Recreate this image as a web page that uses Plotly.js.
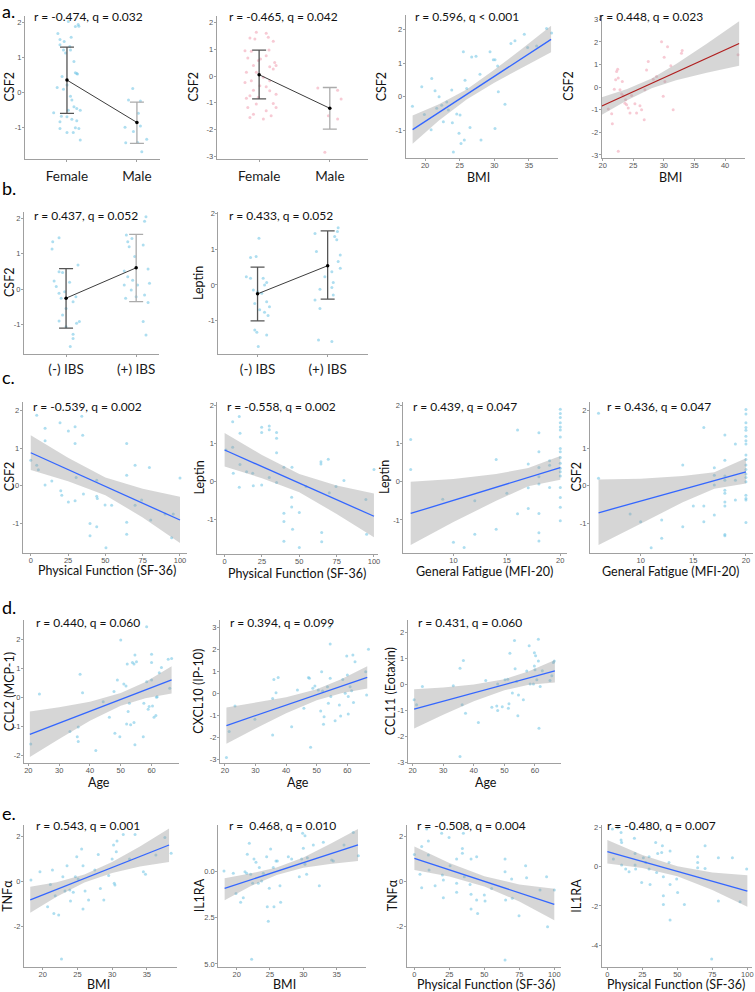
<!DOCTYPE html>
<html><head><meta charset="utf-8">
<script src="https://cdn.plot.ly/plotly-3.0.1.min.js"></script>
<style>html,body{margin:0;padding:0;background:#fff}</style>
</head><body><div id="chart" style="width:755px;height:992px"></div>
<script>
// ---------------- DATA ----------------
const catsSex = ['Female', 'Male'];
const catsIBS = ['(-) IBS', '(+) IBS'];

// a1: CSF2 by sex (blue)
const a1FemaleJitter = [-0.13,-0.10,0.17,0.12,0.06,-0.04,-0.10,0.04,-0.05,-0.02,0.05,0.10,0.14,0.12,0.15,-0.07,-0.14,-0.05,0.00,0.05,0.07,0.10,0.14,0.19,-0.19,-0.08,0.00,0.07,0.14,-0.10,0.12,0.00,0.17,0.09,0.19,-0.10,0.02,0.02,0.16];
const a1FemaleY = [1.69,1.52,1.90,1.89,1.58,1.46,1.37,1.32,1.22,1.13,1.22,0.89,0.55,0.57,0.53,0.46,0.15,0.10,0.22,-0.10,-0.21,-0.40,-0.45,-0.50,-0.57,-0.67,-0.69,-0.76,-0.80,-1.02,-1.00,-1.14,-1.02,-1.14,-1.35,-0.83,-0.50,2.03,1.95];
const a1MaleJitter = [-0.06,-0.12,0.05,-0.17,0.05,-0.05,0.14,-0.16,0.01,0.07,0.02];
const a1MaleY = [0.12,-0.21,-0.24,-0.99,-0.95,-1.11,-1.33,-1.43,-1.42,-1.69,-0.59];
const a1Mean = [0.36,-0.85], a1Lower = [-0.59,-1.45], a1Upper = [1.30,-0.27];

// a2: CSF2 by sex (pink)
const a2FemaleJitter = [-0.04,0.10,0.13,-0.13,-0.06,0.20,-0.20,-0.11,0.14,0.10,-0.16,0.02,-0.01,0.22,-0.08,0.15,0.24,0.20,-0.18,-0.04,0.06,0.15,-0.11,-0.20,0.01,0.10,-0.08,0.15,0.24,-0.13,-0.01,-0.18,0.20,-0.04,-0.16,0.24,0.10,-0.08,0.17,-0.13,0.06];
const a2FemaleY = [1.64,1.60,1.45,1.43,1.39,1.30,0.95,0.93,0.98,0.76,0.68,0.64,0.58,0.51,0.39,0.35,0.39,0.26,0.14,0.14,-0.05,-0.18,-0.18,-0.24,-0.36,-0.40,-0.53,-0.55,-0.68,-0.74,-0.80,-0.83,-1.03,-1.05,-1.18,-1.18,-1.30,-1.43,-1.49,-1.55,-1.61];
const a2MaleJitter = [-0.17,0.11,0.16,-0.02,0.11,-0.07];
const a2MaleY = [-0.45,-0.53,-0.86,-1.49,-1.61,-2.86];
const a2Mean = [0.05,-1.21], a2Lower = [-0.86,-1.99], a2Upper = [0.97,-0.43];

// a3: CSF2 vs BMI (blue)
const a3X = [18.17,19.52,19.90,20.96,20.87,21.44,21.68,22.02,22.40,22.64,23.13,23.85,23.94,23.37,24.57,24.90,25.05,25.19,25.53,25.67,25.77,26.01,26.49,26.73,27.36,27.93,28.08,29.38,29.86,30.10,30.10,30.48,30.58,31.54,32.40,32.98,34.33,34.81,36.11,37.55,38.27,24.09];
const a3Y = [-0.28,0.30,-0.52,0.54,-0.97,0.18,-0.34,0.00,-0.25,-0.74,-0.15,0.20,-0.77,-0.39,-0.51,-1.08,-0.54,-1.38,1.33,-1.28,0.49,0.25,-0.91,1.18,1.20,0.67,-1.28,1.33,1.10,1.10,-0.94,0.91,0.15,-0.22,1.58,1.66,1.85,1.46,1.50,2.02,1.89,-1.63];
const a3BandX = [18.2,22,26,30,34,38.2], a3BandLo = [-1.39,-0.70,-0.08,0.42,0.86,1.32], a3BandHi = [-0.55,-0.22,0.22,0.80,1.42,2.10];
const a3LineX = [18.2,38.2], a3LineY = [-0.97,1.70];

// a4: CSF2 vs BMI (pink)
const a4X = [19.40,20.92,21.47,21.90,22.28,22.12,22.45,22.55,22.83,23.10,23.21,23.37,23.64,23.75,23.91,24.18,24.46,24.73,25.27,25.54,26.09,26.36,26.79,26.90,27.17,27.45,28.26,28.80,29.62,30.05,30.60,31.14,30.16,31.52,32.88,32.99,29.89,22.55,21.58,19.29,42.12];
const a4Y = [-0.24,-0.97,-1.18,-0.09,0.69,0.32,0.79,0.40,-0.12,-0.31,0.25,-0.38,-0.71,-0.56,-0.78,-0.93,-1.15,-0.37,-0.74,-1.15,-0.82,-1.00,-1.44,-0.12,0.76,1.13,0.35,0.47,2.01,1.32,1.79,0.94,0.25,-1.00,1.50,1.62,-0.41,-2.84,-1.62,-1.47,1.43];
const a4BandX = [19.5,24,28,32,37,42.3], a4BandLo = [-1.28,-0.58,-0.05,0.30,0.64,0.95], a4BandHi = [-0.48,-0.08,0.38,1.02,1.92,2.91];
const a4LineX = [19.5,42.3], a4LineY = [-0.88,1.93];

// b1: CSF2 by IBS
const b1NegJitter = [-0.19,-0.10,-0.20,0.17,-0.05,-0.10,-0.17,-0.14,0.05,-0.10,-0.02,0.14,-0.07,0.10,0.00,-0.05,-0.10,0.15,0.00,0.10,0.10,0.06,0.19];
const b1NegY = [1.34,1.45,1.13,0.68,0.47,0.49,0.23,0.07,0.19,-0.12,-0.08,-0.22,-0.26,-0.36,-0.55,-0.74,-0.91,-0.97,-1.07,-1.28,-1.40,-1.63,-0.92];
const b1PosJitter = [0.14,0.12,-0.14,-0.06,-0.12,0.10,-0.10,-0.02,0.17,-0.17,-0.12,-0.05,0.19,-0.17,0.02,-0.07,0.12,0.00,0.17,-0.15,0.10,0.14];
const b1PosY = [2.05,1.92,1.53,1.43,1.34,1.25,1.20,0.92,0.57,0.51,0.35,0.25,0.16,0.11,0.11,-0.03,-0.17,-0.22,-0.38,-0.26,-0.92,-1.30];
const b1Mean = [-0.26,0.60], b1Lower = [-1.11,-0.36], b1Upper = [0.58,1.55];

// b2: Leptin by IBS
const b2NegJitter = [0.02,-0.10,-0.02,-0.16,-0.10,0.08,0.13,0.10,-0.06,0.00,0.06,-0.04,0.13,0.17,0.03,0.10,0.15,-0.04,-0.01,0.13,0.01];
const b2NegY = [1.31,0.77,0.80,0.23,0.19,0.19,0.07,0.00,-0.14,-0.19,-0.23,-0.52,-0.47,-0.61,-0.70,-0.77,-0.86,-1.27,-1.33,-1.41,-1.73];
const b2PosJitter = [-0.18,0.15,0.14,0.10,0.13,-0.16,0.18,0.15,0.18,0.06,-0.04,0.08,-0.11,-0.18,-0.11,0.06,-0.13,0.06,0.08];
const b2PosY = [1.45,1.61,1.50,1.36,1.27,0.94,0.84,0.66,0.47,0.37,0.23,0.07,-0.12,-0.42,-0.66,-0.07,-1.55,-1.59,-0.28];
const b2Mean = [-0.25,0.54], b2Lower = [-1.01,-0.40], b2Upper = [0.50,1.52];

// c1: CSF2 vs Physical Function
const c1X = [0,4.0,4.0,5.1,9.6,9.6,9.6,14.1,19.6,20.1,20.8,25.2,25.2,29.7,29.7,30.4,29.7,34.2,34.8,35.3,39.7,39.7,44.2,44.2,44.6,44.2,49.8,50.4,54.2,64.3,64.3,64.3,64.3,69.9,69.9,74.3,79.5,80.4,90.0,94.4,95.5,100];
const c1Y = [0.68,1.88,0.55,0.43,1.53,1.20,0.02,0.13,1.68,-0.13,-0.25,1.46,-0.43,1.57,1.13,0.22,-0.40,1.85,1.35,-0.22,-1.00,-1.33,0.15,-0.28,-0.34,-1.09,-0.51,-1.65,-0.52,1.13,0.28,-0.97,-1.29,0.55,-0.52,-0.38,0.49,-0.91,-0.75,-1.38,-0.75,0.21];
const c1BandX = [0,25,50,75,100], c1BandLo = [0.42,0.12,-0.25,-0.84,-1.52], c1BandHi = [1.35,0.75,0.22,-0.08,-0.29];
const c1LineX = [0,100], c1LineY = [0.88,-0.91];

// c2: Leptin vs Physical Function
const c2X = [0.9,5.4,5.4,5.8,9.8,10.3,10.3,9.8,14.7,18.8,19.2,24.8,24.8,24.8,29.9,29.9,29.9,34.8,34.8,34.8,34.8,39.7,39.7,39.7,44.9,44.9,45.5,45.1,39.7,50.0,50.0,54.5,64.5,64.5,65.0,65.0,69.4,70.1,74.6,79.9,94.6,95.1,100];
const c2Y = [0.83,1.57,0.90,0.22,1.71,1.27,0.45,-0.15,0.26,0.22,-0.11,1.43,1.29,-0.09,1.46,1.36,0.11,1.29,1.14,0.76,-0.02,0.38,-0.83,-1.05,-0.41,-0.67,-1.25,0.38,-1.57,-1.73,-0.81,-0.13,0.52,0.46,-1.34,-1.58,0.59,-0.29,-0.13,0.03,-0.47,-1.38,0.32];
const c2BandX = [0,25,50,75,100], c2BandLo = [0.40,0.09,-0.28,-0.85,-1.46], c2BandHi = [1.28,0.70,0.20,-0.10,-0.31];
const c2LineX = [0,100], c2LineY = [0.83,-0.91];

// c3: Leptin vs General Fatigue
const c3X = [6,6,9,10,11,12,12,14,14,15,16,16,17,17,17,18,18,18,18,18,18,18,18,19,19,19,20,20,20,20,20,20,20,20,20,20,20,20,20,20,20,20,20,20];
const c3Y = [1.10,0.32,-0.46,-1.58,-1.72,-0.50,-1.37,0.58,-1.24,-0.30,1.35,-0.84,0.46,-0.16,-0.70,1.28,0.78,0.37,0.13,-0.06,-0.83,-1.33,-1.55,0.55,0.43,-0.15,1.89,1.78,1.68,1.54,1.43,1.35,1.17,0.87,0.78,0.63,0.48,0.35,0.26,0.15,-0.15,-0.41,-0.67,-1.02];
const c3BandX = [6,10,14,17,20], c3BandLo = [-1.65,-1.05,-0.50,-0.12,0.05], c3BandHi = [0.00,0.07,0.20,0.36,0.67];
const c3LineX = [6,20], c3LineY = [-0.83,0.37];

// c4: CSF2 vs General Fatigue
const c4X = [6,6,9,10,11,12,12,14,14,15,16,16,16,17,17,17,17,18,18,18,18,18,18,18,18,18,18,19,19,19,20,20,20,20,20,20,20,20,20,20,20,20,20,20,20,20,20,20,20];
const c4Y = [1.93,0.20,-0.75,-0.96,-1.65,-0.91,-1.40,0.55,-1.09,-0.54,1.55,-0.54,-0.96,0.48,0.28,0.02,-0.78,1.35,0.68,0.26,0.15,-0.12,-0.20,-0.43,-0.54,-1.30,-1.33,1.11,0.15,-0.38,2.03,1.91,1.68,1.55,1.48,1.32,1.20,1.11,0.82,0.70,0.55,0.43,0.31,0.22,0.11,-0.25,-0.34,-0.38,-0.98];
const c4BandX = [6,10,14,17,20], c4BandLo = [-1.58,-1.01,-0.44,-0.08,0.06], c4BandHi = [0.17,0.19,0.26,0.36,0.73];
const c4LineX = [6,20], c4LineY = [-0.72,0.37];

// d1: CCL2 vs Age
const d1X = [20.8,23.6,33.5,35.9,36.2,36.8,37.6,36.2,41.9,44.3,46.3,47.8,48.1,48.9,49.7,50.0,51.0,51.7,51.9,52.1,52.4,52.8,53.2,53.8,54.3,54.6,54.6,54.3,55.1,57.3,57.5,58.4,58.4,58.9,59.2,60.0,60.0,60.0,60.3,60.8,61.4,61.6,61.8,62.5,63.2,65.4,65.9,66.5];
const d1Y = [-1.61,0.11,-1.18,-1.36,-1.53,0.80,0.16,-1.03,-1.84,-0.15,-0.69,0.20,-1.24,0.60,-1.36,1.98,0.46,0.39,-0.92,1.15,-0.49,-0.21,-0.95,1.20,1.15,1.46,-1.64,-0.87,1.23,-1.36,-0.21,2.44,0.54,-0.41,-0.32,1.49,1.20,0.60,-0.30,-0.69,-0.63,0.00,0.02,0.85,1.03,1.31,0.31,1.34];
const d1BandX = [20.5,30,40,50,58,66.5], d1BandLo = [-2.06,-1.44,-0.81,-0.29,-0.03,0.13], d1BandHi = [-0.49,-0.34,-0.15,0.15,0.53,1.07];
const d1LineX = [20.5,66.5], d1LineY = [-1.28,0.60];

// d2: CXCL10 vs Age
const d2X = [20.5,21.4,23.3,29.8,35.6,36.0,36.7,35.6,37.4,41.8,43.7,45.8,47.3,47.6,48.0,48.7,49.4,50.5,51.3,51.6,51.9,52.2,52.4,53.5,53.8,54.1,54.4,54.4,54.6,56.0,57.4,57.8,58.5,59.3,59.8,60.0,60.3,60.3,60.9,61.4,61.8,62.0,62.5,66.0,66.3,66.9];
const d2Y = [-2.91,-1.73,-0.57,-1.18,-0.23,0.63,0.03,-1.89,0.72,-1.51,0.15,-0.68,0.72,0.68,-2.44,0.23,0.33,0.15,-0.80,0.98,0.11,-1.40,-1.06,0.30,-0.45,2.99,2.23,0.68,-0.15,-1.24,-0.53,-1.03,0.63,0.00,1.69,0.83,-0.15,-0.94,0.30,0.12,1.73,-0.42,1.43,0.98,-0.08,1.99];
const d2BandX = [20.5,30,40,50,58,66.5], d2BandLo = [-2.29,-1.59,-0.90,-0.32,0.00,0.22], d2BandHi = [-0.64,-0.43,-0.18,0.18,0.64,1.23];
const d2LineX = [20.5,66.5], d2LineY = [-1.46,0.72];

// d3: CCL11 vs Age
const d3X = [20.5,21.3,23.2,33.3,35.5,36.2,36.6,37.3,35.5,41.5,43.9,45.9,47.5,47.8,47.8,49.3,50.2,51.1,51.3,51.5,51.8,52.6,53.3,53.5,54.0,54.4,54.6,56.2,57.3,58.1,58.4,59.5,59.8,59.8,60.0,60.2,60.6,61.1,61.1,61.3,61.7,62.4,64.9,65.5,66.0,66.3];
const d3Y = [-0.60,-0.79,-0.09,-0.06,0.61,-0.79,0.91,-1.11,-2.77,-1.47,0.14,-0.88,-0.83,0.01,-1.01,-0.86,0.17,0.19,-0.92,-0.75,1.19,-0.34,1.67,0.59,0.10,-1.21,-0.41,-0.60,0.51,1.47,0.01,0.01,0.70,1.21,0.55,1.09,0.17,0.89,1.72,-1.69,-0.09,0.52,0.14,0.32,0.83,0.89];
const d3BandX = [20.5,30,40,50,58,66.5], d3BandLo = [-1.70,-1.17,-0.65,-0.23,-0.02,0.07], d3BandHi = [-0.19,-0.13,-0.01,0.19,0.50,0.93];
const d3LineX = [20.5,66.5], d3LineY = [-0.95,0.51];

// e1: TNFa vs BMI
const e1X = [18.3,19.6,20.7,21.1,21.4,21.6,21.8,22.3,22.7,22.9,23.2,23.5,23.9,24.0,24.4,24.7,24.9,25.1,25.6,25.8,25.8,26.1,26.6,27.5,28.0,28.3,28.8,29.5,30.0,30.2,30.3,30.4,30.6,30.7,31.6,33.3,32.5,34.5,34.8,36.3,37.6,38.5];
const e1Y = [0.07,0.44,-1.11,-0.12,0.52,-1.41,-0.62,-1.48,-3.44,0.22,-0.41,0.71,-0.37,-0.86,-0.47,0.22,1.11,0.12,1.45,0.71,-1.21,-0.41,-0.81,0.52,1.21,-0.30,-0.81,0.27,1.01,1.63,-0.07,-0.15,1.33,1.81,2.10,2.10,1.01,0.44,0.33,1.19,1.96,1.26];
const e1BandX = [18.2,22,26,30,34,38.2], e1BandLo = [-1.38,-0.67,-0.04,0.39,0.68,0.88], e1BandHi = [-0.23,-0.03,0.32,0.87,1.56,2.36];
const e1LineX = [18.2,38.2], e1LineY = [-0.81,1.63];

// e2: IL1RA vs BMI
const e2X = [18.1,19.5,19.9,21.0,20.6,21.25,21.5,21.6,21.9,22.1,22.25,22.4,22.6,22.9,23.25,23.4,23.75,24.0,24.5,24.6,24.75,24.9,25.1,25.5,25.6,25.9,26.1,26.5,26.6,27.75,28.25,29.4,29.75,29.9,30.0,30.25,30.25,30.5,30.6,31.5,32.4,33.0,34.25,34.5,36.1,37.5,38.25];
const e2Y = [0.04,-0.09,-1.18,-1.41,-1.66,0.0,-0.09,0.94,1.54,-0.14,-4.74,-0.63,0.69,0.51,-0.63,0.22,-0.51,-0.09,0.81,-1.90,-2.68,-0.90,1.23,0.22,-1.90,0.58,0.58,-0.76,-1.66,0.81,0.69,-0.27,0.69,2.08,1.27,1.95,0.40,-0.14,0.76,1.45,-0.76,1.59,0.63,0.58,1.45,2.13,0.87];
const e2BandX = [18.2,22,26,30,34,38.2], e2BandLo = [-1.55,-0.80,-0.18,0.21,0.42,0.58], e2BandHi = [-0.35,-0.10,0.22,0.77,1.50,2.31];
const e2LineX = [18.2,38.2], e2LineY = [-0.90,1.45];

// e3: TNFa vs Physical Function
const e3X = [0,4.0,5.2,5.2,8.8,10,10,10.5,14.8,19.5,20,20.7,20.7,24.8,25.5,30.2,30.2,30.2,34.3,34.3,35.0,35.7,39.8,40.5,40.5,40.5,44.5,44.5,45.2,50,50.5,55.2,64.8,64.8,65.2,64.8,69.5,70,74.8,79.5,80.2,89.8,94.5,95.2,100];
const e3Y = [1.21,0.33,-0.27,1.56,2.34,1.81,1.19,0.52,-0.18,2.15,0.30,0.07,-0.71,1.96,0.71,1.01,-0.07,-0.47,1.48,1.26,2.15,0.22,-0.12,1.01,-0.56,-1.21,1.11,-0.81,-1.41,-0.59,-0.86,-0.30,1.01,0.44,-0.81,-3.48,0.12,-0.74,-1.51,0.71,0.18,-0.37,0.22,-2.0,-0.37];
const e3BandX = [0,25,50,75,100], e3BandLo = [0.52,0.23,-0.21,-0.88,-1.71], e3BandHi = [1.56,0.83,0.24,-0.12,-0.31];
const e3LineX = [0,100], e3LineY = [1.04,-1.01];

// e4: IL1RA vs Physical Function
const e4X = [3.6,4.3,7.4,9.8,9.8,10.2,10.2,13.1,15.5,18.6,19.3,19.8,19.8,20.2,24.5,25.7,27.4,29.8,29.8,30.5,34.5,35.2,35.95,38.8,39.3,40,40,40,44.0,44.8,44.8,44.8,49.5,50.2,55.0,64.5,64.5,64.5,69.8,69.8,74.5,79.3,79.3,89.3,99.5,94.8];
const e4Y = [1.92,0.39,1.99,1.75,1.36,1.24,0.09,-0.12,-0.26,1.92,1.45,0.68,0.09,-0.12,-0.80,0.46,0.22,0.51,-0.12,-0.90,1.24,-0.29,0.68,0.73,1.07,-0.51,-1.48,-1.92,0.22,0.80,-0.90,-2.72,-0.63,-1.31,-1.92,0.51,0.22,-0.05,1.07,-0.09,-4.71,0.46,-1.75,0.46,-0.12,-1.79];
const e4BandX = [0,25,50,75,100], e4BandLo = [0.17,-0.06,-0.49,-1.19,-2.04], e4BandHi = [1.37,0.60,0.02,-0.29,-0.44];
const e4LineX = [0,100], e4LineY = [0.77,-1.24];

// tick values / labels
const ticksM1to2 = [-1,0,1,2];
const ticksM2to2 = [-2,-1,0,1,2];
const ticksM3to2 = [-3,-2,-1,0,1,2];
const ticksM3to3 = [-3,-2,-1,0,1,2,3];
const ticksEven2 = [-2,0,2];
const ticksEven4 = [-4,-2,0,2];
const ticksIL1RAbmi = [0,-2.5,-5];
const ticksIL1RAbmiText = ['0.0','2.5','5.0'];
const ticksBMI4 = [20,25,30,35];
const ticksBMI5 = [20,25,30,35,40];
const ticksPF = [0,25,50,75,100];
const ticksGF = [10,15,20];
const ticksAge = [20,30,40,50,60];

// ---------------- DRAWING ----------------
const W = 755, H = 992;
const FONT = 'Lato, "Open Sans", sans-serif';
const TICKFONT = {family: '"Liberation Sans", Arial, sans-serif', size: 7.5, color: '#555555'};
const BLUE_PT = 'rgba(120,200,230,0.6)';
const PINK_PT = 'rgba(240,150,170,0.5)';
const BAND = 'rgba(153,153,153,0.4)';
const BLUE_LINE = '#3366FF';
const RED_LINE = '#B01E1E';
const PT_SIZE = 3;

const traces = [];
const annotations = [];
const layout = {
  width: W, height: H, margin: {l: 0, r: 0, t: 0, b: 0, pad: 0},
  showlegend: false, paper_bgcolor: '#ffffff', plot_bgcolor: 'rgba(0,0,0,0)',
  font: {family: FONT, color: '#000'}, annotations: annotations
};
let n = 0;
function axisBase() {
  return {showline: true, linecolor: '#a0a0a0', linewidth: 1, ticks: 'outside', ticklen: 2,
    tickcolor: '#a0a0a0', tickwidth: 1, showgrid: false, zeroline: false,
    tickfont: TICKFONT, fixedrange: true, tickmode: 'array'};
}
function textAt(t, x, y, size, anchor, angle) {
  annotations.push({xref: 'paper', yref: 'paper', x: x / W, y: 1 - y / H, xanchor: anchor || 'center', yanchor: 'middle',
    text: t, showarrow: false, textangle: angle || 0, borderpad: 0, font: {family: FONT, size: size, color: '#111'}});
}
function axes(p) {
  n++;
  const s = n === 1 ? '' : String(n);
  const xa = Object.assign(axisBase(), {domain: [p.box[0] / W, p.box[1] / W], anchor: 'y' + s, range: p.xr,
    tickvals: p.xtv, ticktext: p.xtt || p.xtv.map(String), ticklabelstandoff: -2});
  if (p.xCat) { xa.tickfont = {family: FONT, size: 13.5, color: '#1a1a1a'}; xa.ticklabelstandoff = p.catGap; }
  const ya = Object.assign(axisBase(), {domain: [1 - p.box[3] / H, 1 - p.box[2] / H], anchor: 'x' + s, range: p.yr,
    tickvals: p.ytv, ticktext: p.ytt || p.ytv.map(String), ticklabelstandoff: -1});
  layout['xaxis' + s] = xa;
  layout['yaxis' + s] = ya;
  if (p.xtitle) textAt(p.xtitle, p.xtp[0], p.xtp[1], 12.5);
  textAt(p.ytitle, p.ytx, (p.box[2] + p.box[3]) / 2, 12.5, 'center', -90);
  textAt(p.label, p.lab[0], p.lab[1], 12, 'left');
  return {x: 'x' + s, y: 'y' + s};
}
function catPanel(p) {
  const ax = axes(p);
  p.groups.forEach((g, i) => {
    traces.push({type: 'scatter', mode: 'markers', x: g.jit.map(j => i + j), y: g.y, xaxis: ax.x, yaxis: ax.y,
      marker: {size: PT_SIZE, color: p.pt}, hoverinfo: 'skip'});
  });
  p.mean.forEach((m, i) => {
    traces.push({type: 'scatter', mode: 'markers', x: [i], y: [m], xaxis: ax.x, yaxis: ax.y,
      marker: {size: 1, color: 'rgba(0,0,0,0)'}, hoverinfo: 'skip',
      error_y: {type: 'data', symmetric: false, array: [p.hi[i] - m], arrayminus: [m - p.lo[i]],
        color: p.err[i], thickness: 1.3, width: 7}});
  });
  traces.push({type: 'scatter', mode: 'lines+markers', x: p.mean.map((m, i) => i), y: p.mean, xaxis: ax.x, yaxis: ax.y,
    line: {color: '#3c3c3c', width: 1}, marker: {size: 3.5, color: '#000'}, hoverinfo: 'skip'});
}
function regPanel(p) {
  const ax = axes(p);
  traces.push({type: 'scatter', mode: 'markers', x: p.px, y: p.py, xaxis: ax.x, yaxis: ax.y,
    marker: {size: PT_SIZE, color: p.pt}, hoverinfo: 'skip'});
  traces.push({type: 'scatter', mode: 'lines', x: p.bx.concat(p.bx.slice().reverse()),
    y: p.bhi.concat(p.blo.slice().reverse()), xaxis: ax.x, yaxis: ax.y, fill: 'toself', fillcolor: BAND,
    line: {width: 0, color: 'rgba(0,0,0,0)'}, hoverinfo: 'skip'});
  traces.push({type: 'scatter', mode: 'lines', x: p.lx, y: p.ly, xaxis: ax.x, yaxis: ax.y,
    line: {color: p.lc, width: 1.3}, hoverinfo: 'skip'});
}

// row a
catPanel({box: [25, 160, 16, 159], xr: [-0.6, 1.33], yr: [-1.894, 2.19], xtv: [0, 1], xtt: catsSex, xCat: true, catGap: 3,
  ytv: ticksM1to2, ytitle: 'CSF2', ytx: 9, label: 'r = -0.474, q = 0.032', lab: [33, 17], pt: BLUE_PT,
  groups: [{jit: a1FemaleJitter, y: a1FemaleY}, {jit: a1MaleJitter, y: a1MaleY}],
  mean: a1Mean, lo: a1Lower, hi: a1Upper, err: ['#555555', '#ababab']});
catPanel({box: [216.7, 368, 16, 159], xr: [-0.6, 1.54], yr: [-3.11, 2.25], xtv: [0, 1], xtt: catsSex, xCat: true, catGap: 3,
  ytv: ticksM3to2, ytitle: 'CSF2', ytx: 193, label: 'r = -0.465, q = 0.042', lab: [228, 17], pt: PINK_PT,
  groups: [{jit: a2FemaleJitter, y: a2FemaleY}, {jit: a2MaleJitter, y: a2MaleY}],
  mean: a2Mean, lo: a2Lower, hi: a2Upper, err: ['#555555', '#ababab']});
regPanel({box: [405.7, 558, 15, 157.7], xr: [17.2, 39.2], yr: [-1.80, 2.42], xtv: ticksBMI4, ytv: ticksM1to2,
  xtitle: 'BMI', xtp: [478, 177], ytitle: 'CSF2', ytx: 381, label: 'r = 0.596, q < 0.001', lab: [414.3, 17], pt: BLUE_PT, lc: BLUE_LINE,
  px: a3X, py: a3Y, bx: a3BandX, blo: a3BandLo, bhi: a3BandHi, lx: a3LineX, ly: a3LineY});
regPanel({box: [601.7, 745, 15, 158.3], xr: [19.84, 43.26], yr: [-3.15, 3.19], xtv: ticksBMI5, ytv: ticksM3to3,
  xtitle: 'BMI', xtp: [670, 177], ytitle: 'CSF2', ytx: 569, label: 'r = 0.448, q = 0.023', lab: [597.7, 17], pt: PINK_PT, lc: RED_LINE,
  px: a4X, py: a4Y, bx: a4BandX, blo: a4BandLo, bhi: a4BandHi, lx: a4LineX, ly: a4LineY});

// row b
catPanel({box: [24, 159.3, 211.7, 354.3], xr: [-0.6, 1.33], yr: [-1.85, 2.19], xtv: [0, 1], xtt: catsIBS, xCat: true, catGap: 0,
  ytv: ticksM1to2, ytitle: 'CSF2', ytx: 9, label: 'r = 0.437, q = 0.052', lab: [33.3, 215.7], pt: BLUE_PT,
  groups: [{jit: b1NegJitter, y: b1NegY}, {jit: b1PosJitter, y: b1PosY}],
  mean: b1Mean, lo: b1Lower, hi: b1Upper, err: ['#555555', '#ababab']});
catPanel({box: [218.3, 368.3, 211.7, 354.3], xr: [-0.56, 1.58], yr: [-1.95, 2.06], xtv: [0, 1], xtt: catsIBS, xCat: true, catGap: 0,
  ytv: ticksM1to2, ytitle: 'Leptin', ytx: 198, label: 'r = 0.433, q = 0.052', lab: [227.7, 215.7], pt: BLUE_PT,
  groups: [{jit: b2NegJitter, y: b2NegY}, {jit: b2PosJitter, y: b2PosY}],
  mean: b2Mean, lo: b2Lower, hi: b2Upper, err: ['#555555', '#555555']});

// row c
regPanel({box: [22.7, 186.7, 401.7, 552.7], xr: [-5.4, 104.5], yr: [-1.78, 2.24], xtv: ticksPF, ytv: ticksM1to2,
  xtitle: 'Physical Function (SF-36)', xtp: [106.7, 570.5], ytitle: 'CSF2', ytx: 9, label: 'r = -0.539, q = 0.002', lab: [31.7, 406], pt: BLUE_PT, lc: BLUE_LINE,
  px: c1X, py: c1Y, bx: c1BandX, blo: c1BandLo, bhi: c1BandHi, lx: c1LineX, ly: c1LineY});
regPanel({box: [217.3, 378.3, 401.7, 554.3], xr: [-4.9, 102.9], yr: [-1.91, 2.10], xtv: ticksPF, ytv: ticksM1to2,
  xtitle: 'Physical Function (SF-36)', xtp: [297, 573], ytitle: 'Leptin', ytx: 198.5, label: 'r = -0.558, q = 0.002', lab: [226, 406], pt: BLUE_PT, lc: BLUE_LINE,
  px: c2X, py: c2Y, bx: c2BandX, blo: c2BandLo, bhi: c2BandHi, lx: c2LineX, ly: c2LineY});
regPanel({box: [403.3, 566.7, 401.7, 553.3], xr: [5.31, 20.6], yr: [-1.87, 2.09], xtv: ticksGF, ytv: ticksM1to2,
  xtitle: 'General Fatigue (MFI-20)', xtp: [484, 571.5], ytitle: 'Leptin', ytx: 384.5, label: 'r = 0.439, q = 0.047', lab: [412.3, 406], pt: BLUE_PT, lc: BLUE_LINE,
  px: c3X, py: c3Y, bx: c3BandX, blo: c3BandLo, bhi: c3BandHi, lx: c3LineX, ly: c3LineY});
regPanel({box: [590, 753.3, 401.7, 553.3], xr: [5.19, 20.7], yr: [-1.80, 2.24], xtv: ticksGF, ytv: ticksM1to2,
  xtitle: 'General Fatigue (MFI-20)', xtp: [670.5, 571.5], ytitle: 'CSF2', ytx: 576, label: 'r = 0.436, q = 0.047', lab: [605.7, 406], pt: BLUE_PT, lc: BLUE_LINE,
  px: c4X, py: c4Y, bx: c4BandX, blo: c4BandLo, bhi: c4BandHi, lx: c4LineX, ly: c4LineY});

// row d
regPanel({box: [24, 179.3, 620, 763.3], xr: [18.6, 69.0], yr: [-2.28, 2.67], xtv: ticksAge, ytv: ticksM2to2,
  xtitle: 'Age', xtp: [99, 782], ytitle: 'CCL2 (MCP-1)', ytx: 9.5, label: 'r = 0.440, q = 0.060', lab: [35, 622.7], pt: BLUE_PT, lc: BLUE_LINE,
  px: d1X, py: d1Y, bx: d1BandX, blo: d1BandLo, bhi: d1BandHi, lx: d1LineX, ly: d1LineY});
regPanel({box: [220, 370, 620, 763.3], xr: [18.4, 67.4], yr: [-3.17, 3.32], xtv: ticksAge, ytv: ticksM3to3,
  xtitle: 'Age', xtp: [298.3, 782], ytitle: 'CXCL10 (IP-10)', ytx: 199, label: 'r = 0.394, q = 0.099', lab: [229.3, 622.7], pt: BLUE_PT, lc: BLUE_LINE,
  px: d2X, py: d2Y, bx: d2BandX, blo: d2BandLo, bhi: d2BandHi, lx: d2LineX, ly: d2LineY});
regPanel({box: [407.7, 561, 620, 763.3], xr: [18.4, 68.5], yr: [-3.03, 2.46], xtv: ticksAge, ytv: ticksM3to2,
  xtitle: 'Age', xtp: [486, 782], ytitle: 'CCL11 (Eotaxin)', ytx: 390.5, label: 'r = 0.431, q = 0.060', lab: [416.7, 622.3], pt: BLUE_PT, lc: BLUE_LINE,
  px: d3X, py: d3Y, bx: d3BandX, blo: d3BandLo, bhi: d3BandHi, lx: d3LineX, ly: d3LineY});

// row e
regPanel({box: [24, 176.7, 825, 966.7], xr: [17.3, 39.3], yr: [-3.78, 2.52], xtv: ticksBMI4, ytv: ticksEven2,
  xtitle: 'BMI', xtp: [98.3, 984.5], ytitle: 'TNFα', ytx: 8, label: 'r = 0.543, q = 0.001', lab: [35, 825.7], pt: BLUE_PT, lc: BLUE_LINE,
  px: e1X, py: e1Y, bx: e1BandX, blo: e1BandLo, bhi: e1BandHi, lx: e1LineX, ly: e1LineY});
regPanel({box: [218.3, 366, 825, 966.7], xr: [17.25, 39.4], yr: [-5.15, 2.53], xtv: ticksBMI4, ytv: ticksIL1RAbmi, ytt: ticksIL1RAbmiText,
  xtitle: 'BMI', xtp: [284, 984.5], ytitle: 'IL1RA', ytx: 199.5, label: 'r = \u00a00.468, q = 0.010', lab: [228.3, 825.7], pt: BLUE_PT, lc: BLUE_LINE,
  px: e2X, py: e2Y, bx: e2BandX, blo: e2BandLo, bhi: e2BandHi, lx: e2LineX, ly: e2LineY});
regPanel({box: [406.7, 561, 825, 966.7], xr: [-5.5, 104.8], yr: [-3.78, 2.52], xtv: ticksPF, ytv: ticksEven2,
  xtitle: 'Physical Function (SF-36)', xtp: [486, 984.5], ytitle: 'TNFα', ytx: 392.5, label: 'r = -0.508, q = 0.004', lab: [415.7, 825], pt: BLUE_PT, lc: BLUE_LINE,
  px: e3X, py: e3Y, bx: e3BandX, blo: e3BandLo, bhi: e3BandHi, lx: e3LineX, ly: e3LineY});
regPanel({box: [601.7, 751.7, 825, 966.7], xr: [-4.05, 103.1], yr: [-5.10, 2.13], xtv: ticksPF, ytv: ticksEven4,
  xtitle: 'Physical Function (SF-36)', xtp: [676, 984.5], ytitle: 'IL1RA', ytx: 577, label: 'r = -0.480, q = 0.007', lab: [605.7, 825], pt: BLUE_PT, lc: BLUE_LINE,
  px: e4X, py: e4Y, bx: e4BandX, blo: e4BandLo, bhi: e4BandHi, lx: e4LineX, ly: e4LineY});

// panel letters
[['a.', 10.5], ['b.', 188], ['c.', 377], ['d.', 607], ['e.', 813]].forEach(([t, y]) => {
  annotations.push({xref: 'paper', yref: 'paper', x: 0, y: 1 - y / H, xanchor: 'left', yanchor: 'middle',
    text: t, showarrow: false, font: {family: FONT, size: 18, color: '#000'}});
});

Plotly.newPlot('chart', traces, layout, {staticPlot: true, displayModeBar: false});
</script></body></html>
